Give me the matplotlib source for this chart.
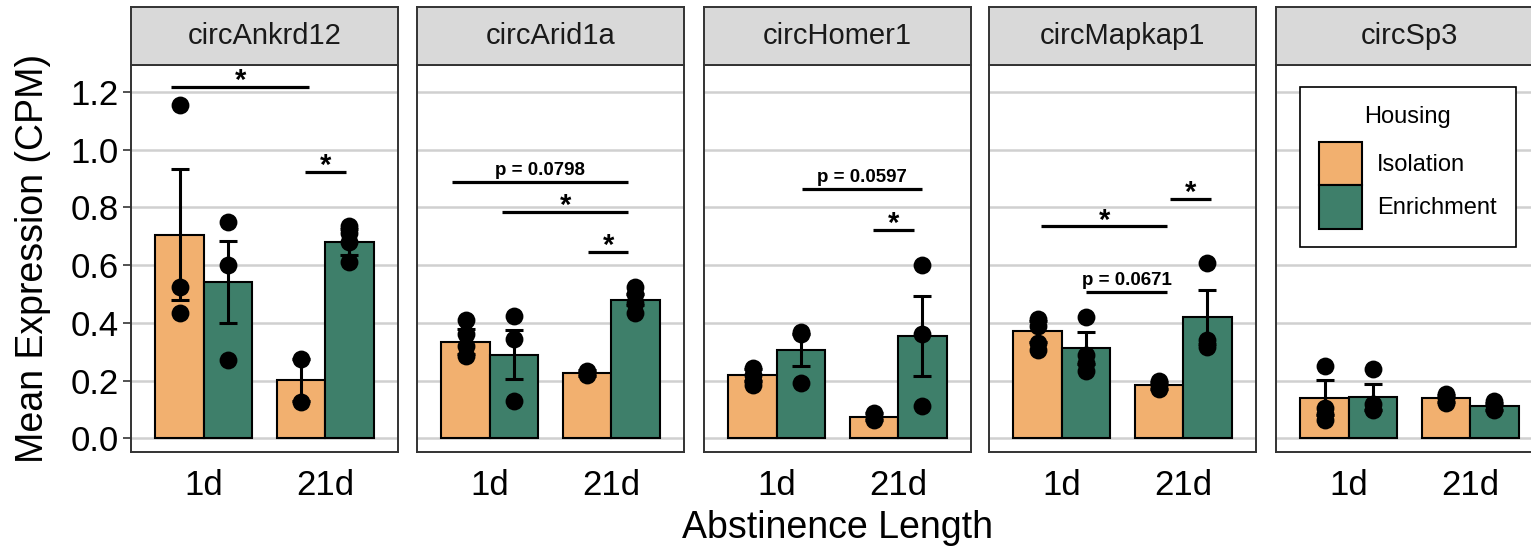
import numpy as np
import matplotlib
matplotlib.use('Agg')
import matplotlib.pyplot as plt
from matplotlib.patches import Patch

plt.rcParams['font.family'] = ['Liberation Sans', 'DejaVu Sans']

genes = ['circAnkrd12', 'circArid1a', 'circHomer1', 'circMapkap1', 'circSp3']
lengths = ['1d', '21d']
housing = ['Isolation', 'Enrichment']
colors = ['#F2B06F', '#3E7F6A']

# bar heights (mean) and standard errors, one row per gene: [1d, 21d]
iso_mean = [[0.705, 0.202], [0.335, 0.226], [0.220, 0.075], [0.371, 0.184], [0.141, 0.139]]
iso_se = [[0.227, 0.073], [0.043, 0.010], [0.020, 0.012], [0.036, 0.012], [0.060, 0.012]]
enr_mean = [[0.541, 0.680], [0.290, 0.481], [0.305, 0.354], [0.314, 0.421], [0.145, 0.112]]
enr_se = [[0.142, 0.045], [0.085, 0.020], [0.055, 0.138], [0.055, 0.093], [0.045, 0.012]]

# individual animals
iso_pts = [
    [[1.153, 0.524, 0.433], [0.274, 0.127]],
    [[0.41, 0.36, 0.32, 0.285], [0.235, 0.225, 0.22]],
    [[0.245, 0.22, 0.20, 0.185], [0.088, 0.075, 0.063]],
    [[0.415, 0.39, 0.33, 0.305], [0.20, 0.185, 0.172]],
    [[0.25, 0.105, 0.085, 0.065], [0.155, 0.14, 0.123]],
]
enr_pts = [
    [[0.748, 0.599, 0.272], [0.735, 0.71, 0.68, 0.61]],
    [[0.423, 0.345, 0.129], [0.524, 0.50, 0.47, 0.435]],
    [[0.37, 0.36, 0.193], [0.599, 0.360, 0.111]],
    [[0.42, 0.29, 0.26, 0.232], [0.608, 0.342, 0.317]],
    [[0.242, 0.12, 0.10], [0.131, 0.115, 0.099]],
]

# pairwise comparisons drawn above the bars
sig_gene = [0, 0, 1, 1, 1, 2, 2, 3, 3, 3]
sig_x1 = [0.73, 1.83, 0.69, 1.10, 1.81, 1.21, 1.79, 0.83, 1.89, 1.20]
sig_x2 = [1.87, 2.17, 2.14, 2.14, 2.14, 2.20, 2.13, 1.87, 2.23, 1.87]
sig_y = [1.216, 0.922, 0.889, 0.784, 0.645, 0.865, 0.722, 0.734, 0.829, 0.508]
sig_label = ['*', '*', 'p = 0.0798', '*', '*', 'p = 0.0597', '*', '*', '*', 'p = 0.0671']

W, H = 1531, 549
fig = plt.figure(figsize=(W / 100, H / 100), dpi=100)

panel_left = [131, 417, 704, 989, 1276]
panel_w = 267
strip_top, panel_top, panel_bot = 7, 65, 452
frame_col = '#333333'

axes = []
for i, gene in enumerate(genes):
    ax = fig.add_axes([panel_left[i] / W, 1 - panel_bot / H, panel_w / W, (panel_bot - panel_top) / H])
    ax.set_xlim(0.4, 2.6)
    ax.set_ylim(-0.047, 1.293)
    ax.set_yticks(np.arange(0, 1.21, 0.2))
    ax.yaxis.grid(True, color='#D0D0D0', lw=1.8)
    ax.set_axisbelow(True)
    x = np.arange(1, 3)
    groups = [(iso_mean, iso_se, iso_pts), (enr_mean, enr_se, enr_pts)]
    for h, (means, ses, pts) in enumerate(groups):
        xs = x + (h - 0.5) * 0.4
        ax.bar(xs, means[i], width=0.4, color=colors[h], edgecolor='black', lw=1.5, zorder=2)
        ax.errorbar(xs, means[i], yerr=ses[i], fmt='none', ecolor='black',
                    elinewidth=2.2, capsize=6.5, capthick=2.2, zorder=3)
        for k in range(2):
            ax.scatter(np.full(len(pts[i][k]), xs[k]), pts[i][k], s=165,
                       color='black', lw=0, zorder=4)
    ax.set_xticks(x, lengths)
    ax.tick_params(axis='x', length=0, pad=12, labelsize=25)
    if i == 0:
        ax.set_yticklabels(['0.0', '0.2', '0.4', '0.6', '0.8', '1.0', '1.2'])
        ax.tick_params(axis='y', length=6, width=1.2, color=frame_col, pad=3, labelsize=25)
    else:
        ax.tick_params(axis='y', left=False, labelleft=False)
    for sp in ax.spines.values():
        sp.set_color(frame_col)
        sp.set_linewidth(1.4)
    axes.append(ax)

    # facet strip
    sax = fig.add_axes([panel_left[i] / W, 1 - panel_top / H, panel_w / W, (panel_top - strip_top) / H])
    sax.set_facecolor('#D9D9D9')
    sax.set_xticks([])
    sax.set_yticks([])
    for sp in sax.spines.values():
        sp.set_color(frame_col)
        sp.set_linewidth(1.4)
    sax.text(0.5, 0.5, gene, ha='center', va='center', fontsize=21, color='#1A1A1A',
             transform=sax.transAxes)

for j in range(len(sig_gene)):
    ax = axes[sig_gene[j]]
    ax.plot([sig_x1[j], sig_x2[j]], [sig_y[j], sig_y[j]], color='black', lw=2.3,
            solid_capstyle='butt', zorder=5)
    xm = (sig_x1[j] + sig_x2[j]) / 2
    if sig_label[j] == '*':
        ax.annotate('*', (xm, sig_y[j]), xytext=(0, -1.5), textcoords='offset points',
                    ha='center', va='baseline', fontsize=21, fontweight='bold', zorder=6)
    else:
        ax.annotate(sig_label[j], (xm, sig_y[j]), xytext=(0, 5), textcoords='offset points',
                    ha='center', va='baseline', fontsize=13.5, fontweight='bold', zorder=6)

handles = [Patch(facecolor=colors[h], edgecolor='black', lw=1.5, label=housing[h]) for h in range(2)]
leg = axes[4].legend(handles=handles, title='Housing', loc='upper left',
                     bbox_to_anchor=(1300 / W, 1 - 87 / H), bbox_transform=fig.transFigure,
                     fontsize=17, title_fontsize=17, frameon=True, fancybox=False,
                     edgecolor='black', framealpha=1, borderpad=0.8, labelspacing=0,
                     handlelength=1.82, handleheight=2.45, handletextpad=0.65,
                     borderaxespad=0)
leg.get_frame().set_linewidth(1.2)
leg._legend_box.sep = 10

fig.text(33 / W, 1 - 258.5 / H, 'Mean Expression (CPM)', rotation=90, ha='center',
         va='center', fontsize=27)
fig.text(837 / W, 1 - 528 / H, 'Abstinence Length', ha='center', va='center', fontsize=27)

fig.savefig('out.png', dpi=100)
